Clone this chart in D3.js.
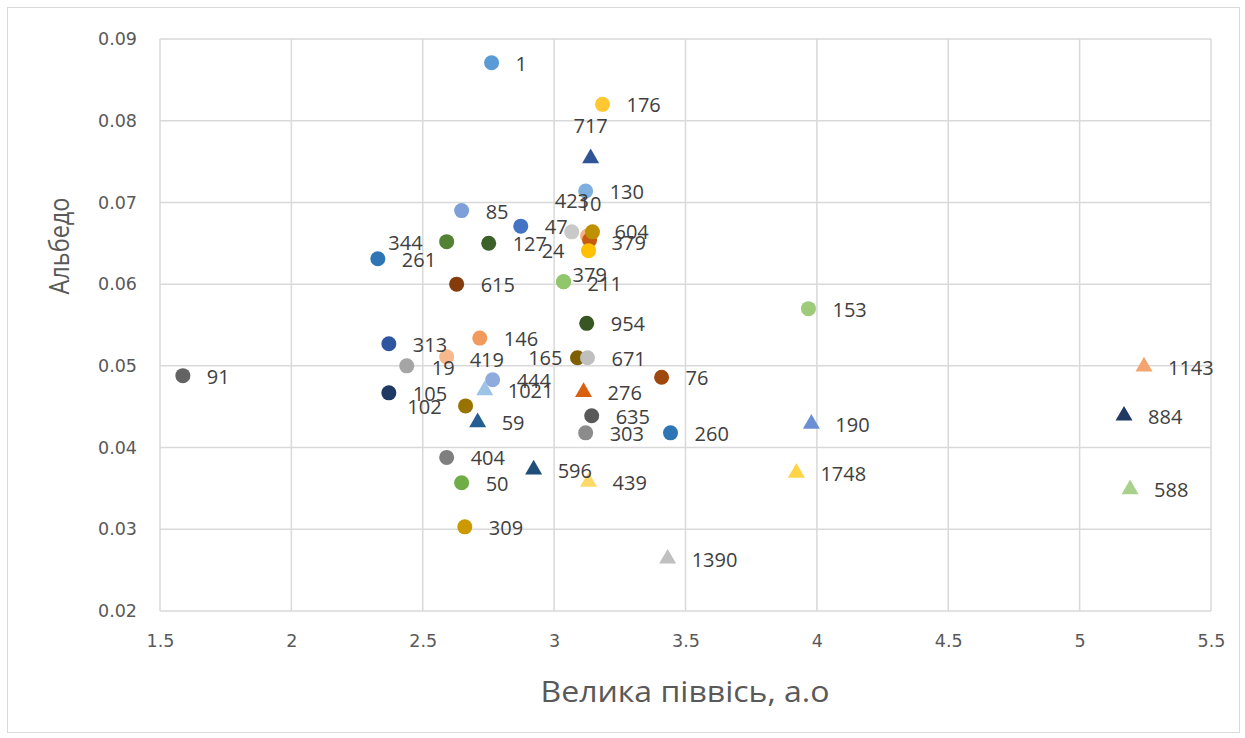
<!DOCTYPE html>
<html><head><meta charset="utf-8">
<script src="https://cdn.jsdelivr.net/npm/d3@7"></script>
<style>
html,body{margin:0;padding:0;background:#fff;}
svg text{font-family:"Open Sans","Noto Sans",sans-serif;}
</style></head>
<body><svg id="chart" width="1245" height="738"></svg>
<script>
// ---- data ----
const names = ["423","10","379","604","24","379","211","1","176","717","130","85","47","344","127","261","615","954","153","313","146","419","19","165","671","91","444","1021","76","105","102","276","59","635","303","260","404","50","309","596","439","1390","190","1748","1143","884","588"];
const semiAxis = [3.067,3.127,3.135,3.146,3.131,3.036,3.036,2.762,3.184,3.139,3.120,2.648,2.873,2.591,2.751,2.329,2.629,3.124,3.968,2.371,2.717,2.591,2.439,3.089,3.127,1.587,2.766,2.736,3.409,2.371,2.663,3.112,2.709,3.143,3.120,3.443,2.591,2.648,2.660,2.922,3.131,3.432,3.979,3.922,5.245,5.169,5.192];
const albedo = [0.0664,0.0659,0.0654,0.0664,0.0641,0.0603,0.0603,0.0871,0.0820,0.0754,0.0714,0.0690,0.0671,0.0652,0.0650,0.0631,0.0600,0.0552,0.0570,0.0527,0.0534,0.0511,0.0500,0.0510,0.0510,0.0488,0.0483,0.0470,0.0486,0.0467,0.0451,0.0468,0.0431,0.0439,0.0418,0.0418,0.0388,0.0357,0.0303,0.0373,0.0358,0.0264,0.0429,0.0369,0.0499,0.0439,0.0349];
const markerType = ["c","c","c","c","c","c","c","c","c","t","c","c","c","c","c","c","c","c","c","c","c","c","c","c","c","c","c","t","c","c","c","t","t","c","c","c","c","c","c","t","t","t","t","t","t","t","t"];
const xTicks = [1.5,2,2.5,3,3.5,4,4.5,5,5.5];
const yTicks = [0.02,0.03,0.04,0.05,0.06,0.07,0.08,0.09];

// ---- styles ----
const colors = ["#C9C9C9","#F4B183","#C55A11","#BF9000","#FFC000","#8FC46A","#92C66B","#5B9BD5","#FFC830","#2F5597","#7DB0DF","#7F9FD8","#4472C4","#548235","#3B6128","#2E75B6","#843C0C","#375623","#9DCB7A","#2F55A0","#F19A5E","#F6B88C","#A5A5A5","#7F6000","#BFBFBF","#636363","#8FAADC","#9DC3E6","#9E480E","#203864","#997300","#D9600E","#255E91","#595959","#8C8C8C","#2E75B6","#7F7F7F","#70AD47","#CC9900","#1F4E79","#FFD966","#C0C0C0","#6A8FD4","#FFD447","#F4A46E","#1F3864","#A9D18E"];
// label offsets (dx, dy, anchor) relative to point
const labelOffsets = {
  0:[-17,-31,"start"],1:[-9,-32,"start"],2:[22,3,"start"],3:[22,0,"start"],4:[-24,0,"end"],
  5:[9,-7,"start"],6:[24,2,"start"],9:[0,-32,"middle"],13:[-24,1,"end"],21:[23,3,"start"],
  22:[25,2,"start"],23:[-15,0,"end"],27:[23,1,"start"],30:[-24,1,"end"]
};

const svg = d3.select("#chart");
const W = 1245, H = 738;
const m = {left:160, right:W-1211, top:39, bottom:H-611};

svg.append("rect").attr("x",7.5).attr("y",7.5).attr("width",1232).attr("height",725)
  .attr("fill","#fff").attr("stroke","#D9D9D9").attr("stroke-width",1);

const x = d3.scaleLinear().domain([1.5,5.5]).range([m.left, W-m.right]);
const y = d3.scaleLinear().domain([0.02,0.09]).range([H-m.bottom, m.top]);

// gridlines
svg.append("g").selectAll("line.v").data(xTicks).join("line")
  .attr("x1",d=>x(d)).attr("x2",d=>x(d)).attr("y1",y(0.09)).attr("y2",y(0.02))
  .attr("stroke","#D9D9D9").attr("stroke-width",1.5);
svg.append("g").selectAll("line.h").data(yTicks).join("line")
  .attr("x1",x(1.5)).attr("x2",x(5.5)).attr("y1",d=>y(d)).attr("y2",d=>y(d))
  .attr("stroke","#D9D9D9").attr("stroke-width",1.5);

// axes (labels only)
const xAxis = svg.append("g").attr("transform",`translate(0,${y(0.02)})`)
  .call(d3.axisBottom(x).tickValues(xTicks).tickFormat(d3.format("")).tickSize(0).tickPadding(24));
const yAxis = svg.append("g").attr("transform",`translate(${x(1.5)},0)`)
  .call(d3.axisLeft(y).tickValues(yTicks).tickFormat(d3.format(".2f")).tickSize(0).tickPadding(23));
[xAxis,yAxis].forEach(a=>{
  a.select(".domain").remove();
  a.selectAll("text").attr("fill","#595959").style("font-family","'DejaVu Sans',sans-serif").style("font-size","17.5px");
});

// points
const data = names.map((n,i)=>({name:n, x:semiAxis[i], y:albedo[i], t:markerType[i], c:colors[i], i}));
const circ = d3.symbol().type(d3.symbolCircle).size(Math.PI*7.5*7.5);
const tri = d3.symbol().type(d3.symbolTriangle).size(125);
svg.append("g").selectAll("path").data(data).join("path")
  .attr("transform",d=>`translate(${x(d.x)},${y(d.y)})`)
  .attr("d",d=>d.t==="t"?tri():circ())
  .attr("fill",d=>d.c);

// labels
svg.append("g").selectAll("text").data(data).join("text")
  .attr("x",d=>x(d.x)+(labelOffsets[d.i]?labelOffsets[d.i][0]:24))
  .attr("y",d=>y(d.y)+(labelOffsets[d.i]?labelOffsets[d.i][1]:1))
  .attr("dy","0.35em")
  .attr("text-anchor",d=>labelOffsets[d.i]?labelOffsets[d.i][2]:"start")
  .attr("fill","#404040").style("font-size","20px")
  .text(d=>d.name);

// axis titles
svg.append("text").attr("x",685).attr("y",691).attr("dy","0.35em").attr("text-anchor","middle")
  .attr("fill","#595959").style("font-size","30px")
  .attr("textLength",289).attr("lengthAdjust","spacingAndGlyphs").text("Велика піввісь, а.о");
svg.append("text").attr("transform","translate(60,246) rotate(-90)").attr("dy","0.35em")
  .attr("text-anchor","middle").attr("fill","#595959").style("font-size","27px")
  .attr("textLength",97).attr("lengthAdjust","spacingAndGlyphs").text("Альбедо");
</script></body></html>
